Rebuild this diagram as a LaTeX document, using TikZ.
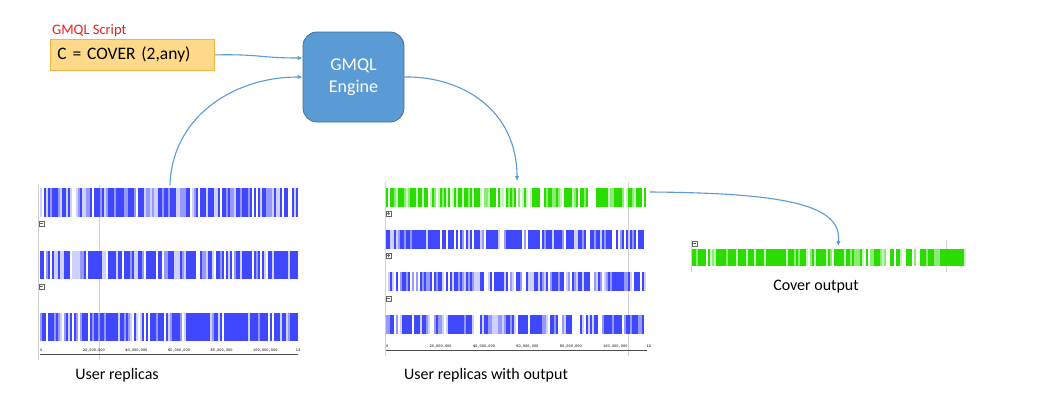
\documentclass[tikz,border=0pt]{standalone}
\usepackage{fontspec}
\setmainfont{Carlito}
\usetikzlibrary{arrows.meta}

\definecolor{engineblue}{HTML}{5B9BD5}
\definecolor{engineedge}{HTML}{41719C}
\definecolor{scriptfill}{HTML}{FFD98A}
\definecolor{scriptedge}{HTML}{F2B544}
\definecolor{trackblue}{HTML}{4048FF}
\definecolor{trackgreen}{HTML}{2ADC00}
\definecolor{scriptred}{HTML}{E8231E}

\tikzset{
  flow/.style={draw=engineblue, line width=1.1pt, -{Latex[length=5pt,width=4.5pt]}},
  engine/.style={draw=engineedge, fill=engineblue, rounded corners=14pt, line width=0.8pt,
    minimum width=101pt, minimum height=90pt, text=white, align=center,
    font=\fontsize{18}{22}\selectfont},
  scriptbox/.style={draw=scriptedge, fill=scriptfill, line width=0.8pt, text width=150pt,
    inner xsep=7pt, minimum height=31pt, align=left, font=\fontsize{17.5}{19}\selectfont},
  caption/.style={font=\fontsize{16}{18}\selectfont},
  ticklabel/.style={anchor=south west, inner sep=0pt, font=\fontsize{4.2}{5}\ttfamily\bfseries},
  guide/.style={draw=gray!35, line width=0.5pt}
}

% one track: x, y, cells, height, colour, seed, share of dark cells
\newcommand{\drawtrack}[7]{%
  \pgfmathsetseed{#6}
  \foreach \k in {1,...,#3}{
    \pgfmathsetmacro{\r}{rnd}
    \pgfmathtruncatemacro{\tone}{\r<#7 ? 100 : (\r<#7+(1-#7)/3 ? 55 : (\r<#7+2*(1-#7)/3 ? 25 : 0))}
    \fill[#5!\tone!white] ({#1+2*(\k-1)},#2) rectangle ++(2.05,#4);
  }}

% axis: x0, y, x1, step, name
\newcommand{\drawaxis}[5]{%
  \draw[black!70, line width=0.6pt] (#1,#2) -- (#3,#2);
  \foreach \t in {0,...,30}
    \draw[black!70, line width=0.3pt] ({#1+\t*#4/5},#2) -- ++(0,1.3);
  \foreach \lab [count=\i from 0] in {0,{20,000,000},{40,000,000},{60,000,000},{80,000,000},{100,000,000},12}
    \node[ticklabel] (#5\i) at ({#1+\i*#4},{#2-2}) {\lab};
}

% small toggle box: x, y, sign
\newcommand{\togglebox}[3]{%
  \draw[black!60, line width=0.4pt] (#1,#2) rectangle ++(5,5);
  \draw[black!60, line width=0.4pt] ({#1+1},{#2+2.5}) -- ++(3,0);
  \ifx#3p\draw[black!60, line width=0.4pt] ({#1+2.5},{#2+1}) -- ++(0,3);\fi
}

\begin{document}
\begin{tikzpicture}[x=1pt, y=-1pt]
  \fill[white] (0,0) rectangle (1037,413);
  \useasboundingbox (0,0) rectangle (1037,413);

  % Script and engine
  \node[anchor=west, text=scriptred, font=\fontsize{14.5}{16}\selectfont, inner sep=0pt] (scriptlabel) at (52,31) {GMQL Script};
  \node[scriptbox, anchor=north west] (script) at (50,39) {C = COVER (2,any)};
  \node[engine] (engine) at (353.5,77) {GMQL\\Engine};

  % User replicas
  \draw[guide] (38,185) -- (38,360);
  \draw[guide] (99,185) -- (99,360);
  \drawtrack{40}{188}{129}{29}{trackblue}{11}{0.45}
  \drawtrack{40}{251}{129}{28}{trackblue}{23}{0.55}
  \drawtrack{40}{313}{129}{28}{trackblue}{37}{0.65}
  \togglebox{39}{221}{m}
  \togglebox{39}{284}{m}
  \drawaxis{40}{354}{298}{42.6}{la}

  % User replicas with output
  \draw[guide] (385,182) -- (385,356);
  \draw[guide] (628,182) -- (628,356);
  \drawtrack{386}{188}{130}{19}{trackgreen}{5}{0.5}
  \drawtrack{386}{230}{130}{19}{trackblue}{41}{0.6}
  \drawtrack{386}{272}{130}{19}{trackblue}{53}{0.45}
  \drawtrack{386}{315}{130}{19}{trackblue}{67}{0.55}
  \togglebox{386}{211}{p}
  \togglebox{386}{253}{p}
  \togglebox{386}{296}{m}
  \drawaxis{386}{350}{647}{43.4}{lb}

  % Cover output
  \draw[guide] (691,240) -- (691,272);
  \draw[guide] (946,240) -- (946,272);
  \drawtrack{692}{249}{137}{17}{trackgreen}{79}{0.6}
  \togglebox{692}{241}{m}

  % Labels
  \node[caption] (leftcap) at (117,375) {User replicas};
  \node[caption] (midcap) at (486,375) {User replicas with output};
  \node[caption] (rightcap) at (816,287) {Cover output};

  % Arrows
  \coordinate (lefttop) at (170,185);
  \coordinate (midtop) at (517,181);
  \coordinate (greenend) at (650,192);
  \coordinate (covertop) at (838,246);
  \draw[flow] (script.east) .. controls (260,54) and (260,58) .. ([yshift=19pt]engine.west);
  \draw[flow] (lefttop) .. controls (172,118) and (232,77) .. (engine.west);
  \draw[flow] (engine.east) .. controls (462,76) and (517,110) .. (midtop);
  \draw[flow] (greenend) .. controls (790,193) and (842,206) .. (covertop);
\end{tikzpicture}
\end{document}
